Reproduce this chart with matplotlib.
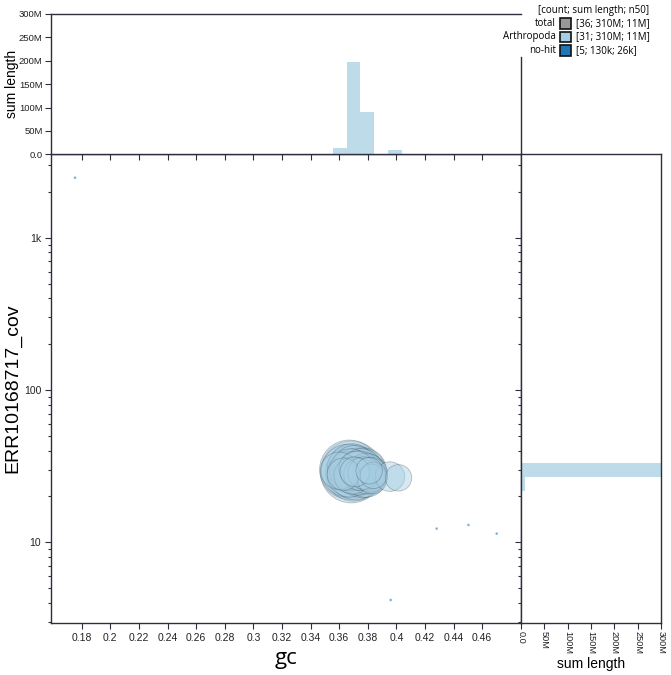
import numpy as np
import matplotlib
matplotlib.use("Agg")
import matplotlib.pyplot as plt
from matplotlib.patches import Rectangle
from matplotlib.ticker import FixedLocator, LogLocator, NullFormatter

plt.rcParams["font.family"] = ["Liberation Sans", "DejaVu Sans"]

# Arthropoda contigs: gc, coverage, length (bp)
arth_gc = [0.3600, 0.3630,
           0.3685, 0.3670, 0.3700, 0.3660, 0.3715, 0.3690, 0.3725, 0.3675,
           0.3705, 0.3735, 0.3680, 0.3740, 0.3695, 0.3720, 0.3745, 0.3710,
           0.3760, 0.3770, 0.3785, 0.3755, 0.3800, 0.3790, 0.3815, 0.3775,
           0.3830, 0.3810, 0.3840,
           0.3955, 0.4015]
arth_cov = [29.5, 28.0,
            29.0, 30.0, 28.5, 29.5, 28.0, 30.5, 29.0, 28.0,
            31.0, 28.5, 30.0, 29.5, 27.5, 30.5, 28.0, 29.0,
            28.5, 29.5, 27.5, 30.0, 28.0, 29.0, 27.8, 28.5,
            26.0, 29.5, 27.5,
            27.0, 26.5]
arth_len = [8e6, 6e6,
            22e6, 20e6, 18e6, 16e6, 15e6, 14e6, 13e6, 12e6,
            11e6, 11e6, 10e6, 9e6, 8e6, 7e6, 6e6, 5e6,
            14e6, 12e6, 11e6, 10e6, 9e6, 8e6, 7e6, 6e6,
            5e6, 4e6, 4e6,
            5e6, 4e6]

# no-hit contigs
nohit_gc = [0.1753, 0.3960, 0.4282, 0.4504, 0.4702]
nohit_cov = [2477, 4.18, 12.3, 13.0, 11.4]
nohit_len = [40e3, 30e3, 26e3, 20e3, 14e3]

legend_names = ["total", "Arthropoda", "no-hit"]
legend_stats = ["[36; 310M; 11M]", "[31; 310M; 11M]", "[5; 130k; 26k]"]
legend_colors = ["#999999", "#a6cee3", "#1f78b4"]

gc_ticks = [0.18, 0.2, 0.22, 0.24, 0.26, 0.28, 0.3, 0.32, 0.34, 0.36, 0.38,
            0.4, 0.42, 0.44, 0.46]
len_ticks = [0, 50e6, 100e6, 150e6, 200e6, 250e6, 300e6]
len_labels = ["0.0", "50M", "100M", "150M", "200M", "250M", "300M"]

XLIM = (0.1585, 0.4872)
YLIM = (2.95, 3530)
gc_edges = 0.3557 + 0.0096 * np.arange(-21, 14)
cov_edges = 10 ** (1.4265 + 0.092 * np.arange(-17, 24))

AX_COL = "#2e2e3e"
ARTH = "#a6cee3"
NOHIT = "#1f78b4"

fig = plt.figure(figsize=(6.71, 6.75), dpi=100)
ax = fig.add_axes([0.0760, 0.0770, 0.7005, 0.6944])
ax_top = fig.add_axes([0.0760, 0.7714, 0.7005, 0.2079])
ax_right = fig.add_axes([0.7765, 0.0770, 0.2086, 0.6944])

for a in (ax, ax_top, ax_right):
    for sp in a.spines.values():
        sp.set_color(AX_COL)
        sp.set_linewidth(1.0)
    a.tick_params(which="both", colors=AX_COL, labelcolor="#222222",
                  labelsize=7.5, direction="out", pad=3)
    a.tick_params(which="major", length=4, width=0.8)
    a.tick_params(which="minor", length=2.5, width=0.8)
ax_top.tick_params(axis="y", labelsize=6.8, pad=2)
ax_right.tick_params(axis="x", labelsize=6.6, pad=2)

# scatter, circle area proportional to length
size_k = 9.06e-5
order = np.argsort(arth_len)[::-1]
ax.scatter(np.array(arth_gc)[order], np.array(arth_cov)[order],
           s=np.array(arth_len)[order] * size_k,
           facecolor=(166 / 255, 206 / 255, 227 / 255, 0.45),
           edgecolor=(0.25, 0.3, 0.35, 0.35), linewidth=0.6, zorder=2)
ax.scatter(nohit_gc, nohit_cov, s=np.maximum(np.array(nohit_len) * size_k, 3.5),
           facecolor=NOHIT, alpha=0.55, edgecolor="none", zorder=3)

ax.set_xlim(*XLIM)
ax.set_yscale("log")
ax.set_ylim(*YLIM)
ax.set_xticks(gc_ticks)
ax.set_xticklabels([f"{t:g}" for t in gc_ticks])
ax.yaxis.set_major_locator(FixedLocator([10, 100, 1000]))
ax.set_yticklabels(["10", "100", "1k"])
ax.yaxis.set_minor_locator(LogLocator(base=10, subs=np.arange(2, 10)))
ax.yaxis.set_minor_formatter(NullFormatter())
ax.set_xlabel("gc", fontsize=16, family="Open Sans", va="center")
ax.xaxis.set_label_coords(0.5, -0.075)
ax.set_ylabel("ERR10168717_cov", fontsize=14, va="center")
ax.yaxis.set_label_coords(-0.081, 0.5)

# top histogram: sum length by gc
top_sum, _ = np.histogram(arth_gc, bins=gc_edges, weights=arth_len)
ax_top.bar(gc_edges[:-1], top_sum, width=np.diff(gc_edges), align="edge",
           color=ARTH, alpha=0.72, linewidth=0)
ax_top.set_xlim(*XLIM)
ax_top.set_ylim(0, 300e6)
ax_top.set_xticks(gc_ticks)
ax_top.tick_params(axis="x", labelbottom=False)
ax_top.set_yticks(len_ticks)
ax_top.set_yticklabels(len_labels)
ax_top.set_ylabel("sum length", fontsize=10, va="center")
ax_top.yaxis.set_label_coords(-0.083, 0.5)
ax_top.spines["right"].set_bounds(0, 208e6)

# right histogram: sum length by coverage
right_sum, _ = np.histogram(arth_cov, bins=cov_edges, weights=arth_len)
ax_right.barh(cov_edges[:-1], right_sum, height=np.diff(cov_edges),
              align="edge", color=ARTH, alpha=0.72, linewidth=0)
ax_right.set_yscale("log")
ax_right.set_ylim(*YLIM)
ax_right.set_xlim(0, 300e6)
ax_right.yaxis.set_major_locator(FixedLocator([10, 100, 1000]))
ax_right.yaxis.set_minor_locator(LogLocator(base=10, subs=np.arange(2, 10)))
ax_right.tick_params(axis="y", which="both", labelleft=False)
ax_right.set_xticks(len_ticks)
ax_right.set_xticklabels(len_labels, rotation=-90)
ax_right.set_xlabel("sum length", fontsize=10, va="center")
ax_right.xaxis.set_label_coords(0.5, -0.087)

# legend, drawn by hand in pixel-like figure coords
W, H = 671, 675
fig.text(649 / W, 1 - 10 / H, "[count; sum length; n50]", ha="right",
         va="center", fontsize=7, family="Open Sans")
for i, (name, stat, col) in enumerate(zip(legend_names, legend_stats, legend_colors)):
    yc = 23.5 + 13.4 * i
    fig.text(556 / W, 1 - yc / H, name, ha="right", va="center",
             fontsize=7, family="Open Sans")
    fig.patches.append(Rectangle((560 / W, 1 - (yc + 5.3) / H), 10.6 / W, 10.6 / H,
                                 transform=fig.transFigure, facecolor=col,
                                 edgecolor="#111111", linewidth=1.2))
    fig.text(576 / W, 1 - yc / H, stat, ha="left", va="center",
             fontsize=7, family="Open Sans")

fig.savefig("out.png", dpi=100)
